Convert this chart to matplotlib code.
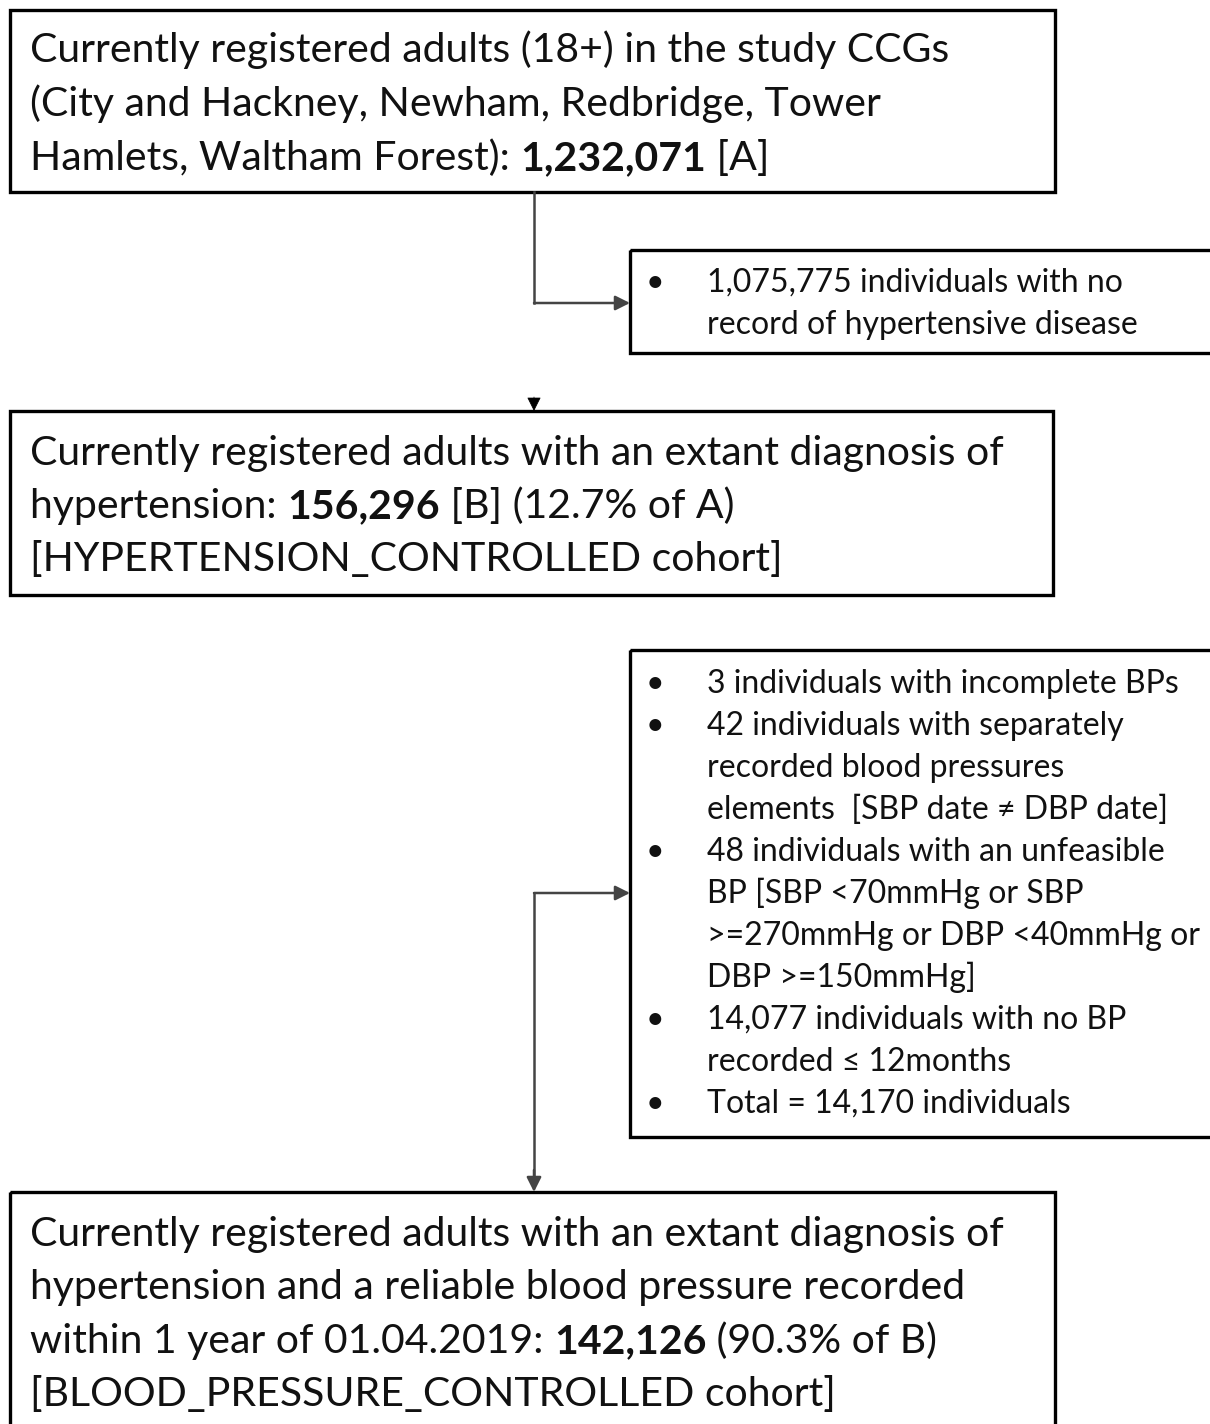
import matplotlib
matplotlib.use("Agg")
import matplotlib.pyplot as plt
from matplotlib.patches import Rectangle

# ---- data ----
total_adults = "1,232,071"
no_hypertension = "1,075,775"
hypertension_n = "156,296"
hypertension_pct = "12.7%"
bp_n = "142,126"
bp_pct = "90.3%"
exclusion_counts = ["3", "42", "48", "14,077"]
exclusion_total = "14,170"

box1_lines = [
    [("Currently registered adults (18+) in the study CCGs", "normal")],
    [("(City and Hackney, Newham, Redbridge, Tower", "normal")],
    [("Hamlets, Waltham Forest): ", "normal"), (total_adults, "bold"), (" [A]", "normal")],
]
box2_items = [[f"{no_hypertension} individuals with no", "record of hypertensive disease"]]
box3_lines = [
    [("Currently registered adults with an extant diagnosis of", "normal")],
    [("hypertension: ", "normal"), (hypertension_n, "bold"), (f" [B] ({hypertension_pct} of A)", "normal")],
    [("[HYPERTENSION_CONTROLLED cohort]", "normal")],
]
box4_items = [
    [f"{exclusion_counts[0]} individuals with incomplete BPs"],
    [f"{exclusion_counts[1]} individuals with separately", "recorded blood pressures",
     "elements  [SBP date \u2260 DBP date]"],
    [f"{exclusion_counts[2]} individuals with an unfeasible", "BP [SBP <70mmHg or SBP",
     ">=270mmHg or DBP <40mmHg or", "DBP >=150mmHg]"],
    [f"{exclusion_counts[3]} individuals with no BP", "recorded \u2264 12months"],
    [f"Total = {exclusion_total} individuals"],
]
box5_lines = [
    [("Currently registered adults with an extant diagnosis of", "normal")],
    [("hypertension and a reliable blood pressure recorded", "normal")],
    [("within 1 year of 01.04.2019: ", "normal"), (bp_n, "bold"), (f" ({bp_pct} of B)", "normal")],
    [("[BLOOD_PRESSURE_CONTROLLED cohort]", "normal")],
]

FAM = ["Lato", "DejaVu Sans"]
W, H = 1210, 1424
fig = plt.figure(figsize=(W / 100, H / 100), dpi=100)
ax = fig.add_axes([0, 0, 1, 1])
ax.set_xlim(0, W)
ax.set_ylim(H, 0)
ax.axis("off")
renderer = fig.canvas.get_renderer()

def box(x0, y0, x1, y1):
    ax.add_patch(Rectangle((x0, y0), x1 - x0, y1 - y0, fill=False,
                           edgecolor="black", linewidth=2.4, clip_on=False))

def rich_line(x, y, pieces, size):
    for txt, wt in pieces:
        t = ax.text(x, y, txt, fontsize=size, fontweight=wt, family=FAM,
                    va="baseline", ha="left", color="#111111")
        bb = t.get_window_extent(renderer=renderer)
        x = ax.transData.inverted().transform((bb.x1, bb.y1))[0]

def main_box(x0, y0, x1, y1, lines, base0, step, size=29.5):
    box(x0, y0, x1, y1)
    for i, pieces in enumerate(lines):
        rich_line(30, base0 + i * step, pieces, size)

def bullet_box(x0, y0, x1, y1, items, base0, step, size=23):
    box(x0, y0, x1, y1)
    k = 0
    for item in items:
        for j, line in enumerate(item):
            yb = base0 + k * step
            if j == 0:
                ax.text(655, yb, "\u2022", fontsize=size, family=FAM, va="baseline",
                        ha="center", color="#111111")
            ax.text(707, yb, line, fontsize=size, family=FAM, va="baseline",
                    ha="left", color="#111111")
            k += 1

main_box(10, 10, 1055, 192, box1_lines, 62, 54)
bullet_box(630, 250, 1212, 353, box2_items, 292, 42)
main_box(10, 411, 1053, 595, box3_lines, 465, 53)
bullet_box(630, 650, 1212, 1137, box4_items, 693, 42)
main_box(10, 1192, 1055, 1430, box5_lines, 1246, 53.5)

lc = "#444444"
ax.plot([534, 534], [192, 303], color=lc, lw=1.8)
ax.annotate("", xy=(630, 303), xytext=(534, 303),
            arrowprops=dict(arrowstyle="-|>", color=lc, lw=1.8, mutation_scale=22,
                            shrinkA=0, shrinkB=0))
ax.annotate("", xy=(534, 411), xytext=(534, 397),
            arrowprops=dict(arrowstyle="-|>", color="black", lw=0.5, mutation_scale=22,
                            shrinkA=0, shrinkB=0))
ax.plot([534, 534], [893, 1180], color=lc, lw=1.8)
ax.annotate("", xy=(630, 893), xytext=(534, 893),
            arrowprops=dict(arrowstyle="-|>", color=lc, lw=1.8, mutation_scale=22,
                            shrinkA=0, shrinkB=0))
ax.annotate("", xy=(534, 1192), xytext=(534, 1170),
            arrowprops=dict(arrowstyle="-|>", color=lc, lw=1.8, mutation_scale=22,
                            shrinkA=0, shrinkB=0))

fig.savefig("out.png", dpi=100, facecolor="white")
